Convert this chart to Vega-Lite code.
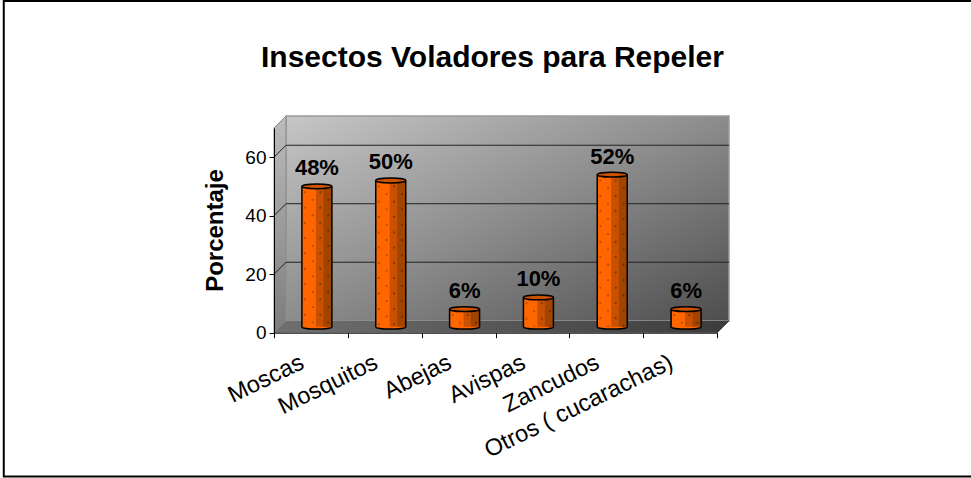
{
"$schema":"https://vega.github.io/schema/vega-lite/v6.json",
"autosize":"none",
"width":455,"height":216.7,
"padding":{"left":274,"top":116,"right":242,"bottom":145.3},
"background":"white",
"view":{"stroke":null},
"config":{"font":"Liberation Sans"},
"title":{"text":"Insectos Voladores para Repeler","font":"Liberation Sans","fontSize":30,"fontWeight":"bold","color":"black","anchor":"middle","dx":-9,"offset":-73},
"resolve":{"scale":{"x":"independent","y":"independent"}},
"layer":[
{"layer":[
 {"data":{"values":[{"x":-3.66,"x2":9.6,"y":113.4,"y2":-49.2}]},
  "mark":{"type":"rect","fill":"white","stroke":"black","strokeWidth":2,"clip":false},
  "encoding":{"x":{"field":"x","type":"quantitative","scale":{"domain":[0,6.1626],"nice":false,"zero":false},"axis":null},"x2":{"field":"x2"},"y":{"field":"y","type":"quantitative","scale":{"domain":[0,74.1],"nice":false,"zero":false},"axis":null},"y2":{"field":"y2"}}},
 {"data":{"values":[{"x":0.1626,"x2":6.1626,"y":4.1,"y2":74.1}]},
  "mark":{"type":"rect","stroke":"#9a9a9a","strokeWidth":1.5,"color":{"gradient":"linear","x1":0,"y1":0,"x2":1,"y2":1,"stops":[{"offset":0,"color":"#c6c6c6"},{"offset":0.5,"color":"#8c8c8c"},{"offset":1,"color":"#4e4e4e"}]}},
  "encoding":{"x":{"field":"x","type":"quantitative","axis":null},"x2":{"field":"x2"},"y":{"field":"y","type":"quantitative","axis":null},"y2":{"field":"y2"}}},
 {"data":{"values":[{"x":0,"y":0,"y2":70},{"x":0.1626,"y":4.1,"y2":74.1}]},
  "mark":{"type":"area","orient":"vertical","stroke":"#8a8a8a","strokeWidth":1,"color":{"gradient":"linear","x1":0,"y1":0,"x2":0,"y2":1,"stops":[{"offset":0,"color":"#bcbcbc"},{"offset":1,"color":"#7c7c7c"}]}},
  "encoding":{"x":{"field":"x","type":"quantitative","axis":null},"y":{"field":"y","type":"quantitative","axis":null},"y2":{"field":"y2"}}},
 {"data":{"values":[{"y":0,"x":0,"x2":6},{"y":4.1,"x":0.1626,"x2":6.1626}]},
  "mark":{"type":"area","orient":"horizontal","color":{"gradient":"linear","x1":0,"y1":0,"x2":1,"y2":0,"stops":[{"offset":0,"color":"#707070"},{"offset":1,"color":"#3c3c3c"}]}},
  "encoding":{"y":{"field":"y","type":"quantitative","axis":null},"x":{"field":"x","type":"quantitative","axis":null},"x2":{"field":"x2"}}},
 {"data":{"values":[
   {"x":0.1626,"x2":6.1626,"y":24.1,"y2":24.1},{"x":0.1626,"x2":6.1626,"y":44.1,"y2":44.1},{"x":0.1626,"x2":6.1626,"y":64.1,"y2":64.1},
   {"x":0,"x2":0.1626,"y":20,"y2":24.1},{"x":0,"x2":0.1626,"y":40,"y2":44.1},{"x":0,"x2":0.1626,"y":60,"y2":64.1},
   {"x":6,"x2":6.1626,"y":0,"y2":4.1}]},
  "mark":{"type":"rule","color":"#222222","strokeWidth":1},
  "encoding":{"x":{"field":"x","type":"quantitative","axis":null},"x2":{"field":"x2"},"y":{"field":"y","type":"quantitative","axis":null},"y2":{"field":"y2"}}}
]},
{"data":{"values":[
 {"insecto":"Moscas","porcentaje":48,"etiqueta":"48%"},
 {"insecto":"Mosquitos","porcentaje":50,"etiqueta":"50%"},
 {"insecto":"Abejas","porcentaje":6,"etiqueta":"6%"},
 {"insecto":"Avispas","porcentaje":10,"etiqueta":"10%"},
 {"insecto":"Zancudos","porcentaje":52,"etiqueta":"52%"},
 {"insecto":"Otros ( cucarachas)","porcentaje":6,"etiqueta":"6%"}]},
 "encoding":{
  "x":{"field":"insecto","type":"nominal","sort":null,"scale":{"type":"band","range":[0,443],"paddingInner":0,"paddingOuter":0},
   "axis":{"title":null,"tickBand":"extent","labelAngle":-26,"labelAlign":"right","labelBaseline":"middle","labelFont":"Liberation Sans","labelFontSize":23.5,"labelColor":"black","labelOffset":-9,"labelPadding":23,"labelLimit":400,"domainColor":"black","tickColor":"black","tickSize":5,"zindex":1,"grid":false,"labelOverlap":false}},
  "y":{"field":"porcentaje","type":"quantitative","scale":{"domain":[0,70],"range":[216.7,12],"nice":false,"zero":false},
   "axis":{"title":"Porcentaje","titleFont":"Liberation Sans","titleFontSize":24,"titleFontWeight":"bold","titleColor":"black","titleX":-47,"titleY":114,"values":[0,20,40,60],"labelFont":"Liberation Sans","labelFontSize":19,"labelColor":"black","domainColor":"black","tickColor":"black","tickSize":5,"labelPadding":3,"zindex":1,"grid":false}},
  "y2":{"datum":0}
 },
 "layer":[
  {"mark":{"type":"point","filled":true,"fill":"#ff6600","stroke":"black","strokeWidth":1.5,"opacity":1,"size":900,"shape":"M-1,0A1,0.16,0,1,0,1,0A1,0.16,0,1,0,-1,0Z","xOffset":6,"yOffset":-6},
   "encoding":{"y":{"datum":0,"type":"quantitative"},"y2":null}},
  {"mark":{"type":"bar","width":30,"color":"#ff6600","xOffset":6,"yOffset":-6,"y2Offset":-6}},
  {"mark":{"type":"bar","width":7.5,"color":"#c85000","xOffset":8.7,"yOffset":-6,"y2Offset":-6}},
  {"mark":{"type":"bar","width":8.5,"color":"#a04400","xOffset":16.6,"yOffset":-6,"y2Offset":-6}},
  {"mark":{"type":"rule","color":"#b04a00","strokeWidth":1.8,"strokeDash":[1.8,13.5],"xOffset":-5.9,"yOffset":-1,"y2Offset":-6}},
  {"mark":{"type":"rule","color":"#b04a00","strokeWidth":1.8,"strokeDash":[1.8,13.5],"strokeDashOffset":7.6,"xOffset":1.8,"yOffset":-1,"y2Offset":-6}},
  {"mark":{"type":"rule","color":"#7c3400","strokeWidth":1.8,"strokeDash":[1.8,13.5],"xOffset":9.4,"yOffset":-1,"y2Offset":-6}},
  {"mark":{"type":"rule","color":"#6c2c00","strokeWidth":1.8,"strokeDash":[1.8,13.5],"strokeDashOffset":7.6,"xOffset":17.4,"yOffset":-1,"y2Offset":-6}},
  {"mark":{"type":"rule","color":"black","strokeWidth":1.5,"xOffset":-9,"yOffset":-6,"y2Offset":-6}},
  {"mark":{"type":"rule","color":"black","strokeWidth":1.5,"xOffset":21,"yOffset":-6,"y2Offset":-6}},
  {"mark":{"type":"point","filled":true,"fill":"#cc5200","stroke":"black","strokeWidth":1.5,"opacity":1,"size":900,"shape":"M-1,0A1,0.16,0,1,0,1,0A1,0.16,0,1,0,-1,0Z","xOffset":6,"yOffset":-6},
   "encoding":{"y2":null}},
  {"mark":{"type":"text","font":"Liberation Sans","fontSize":22,"fontWeight":"bold","color":"black","align":"center","baseline":"middle","xOffset":6,"yOffset":-24},
   "encoding":{"text":{"field":"etiqueta"},"y2":null}}
 ]}
]}
